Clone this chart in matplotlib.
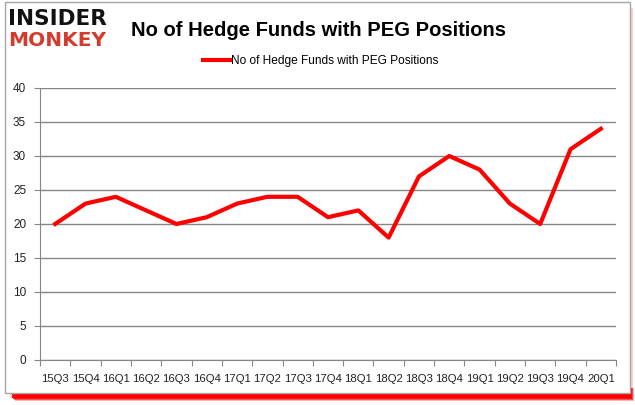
import matplotlib
matplotlib.use('Agg')
import matplotlib.pyplot as plt
from matplotlib.patches import Rectangle

plt.rcParams['font.family'] = ['Liberation Sans', 'DejaVu Sans']

# 数据
quarters = ['15Q3', '15Q4', '16Q1', '16Q2', '16Q3', '16Q4', '17Q1', '17Q2', '17Q3', '17Q4',
            '18Q1', '18Q2', '18Q3', '18Q4', '19Q1', '19Q2', '19Q3', '19Q4', '20Q1']
hedge_funds = [20, 23, 24, 22, 20, 21, 23, 24, 24, 21, 22, 18, 27, 30, 28, 23, 20, 31, 34]
y_ticks = [0, 5, 10, 15, 20, 25, 30, 35, 40]
series_name = 'No of Hedge Funds with PEG Positions'

W, H = 635, 405
fig = plt.figure(figsize=(W / 100, H / 100), dpi=100)
fig.patch.set_facecolor('white')


def px_rect(x0, y0, x1, y1, **kw):
    # 像素坐标 -> figure 坐标
    return Rectangle((x0 / W, 1 - y1 / H), (x1 - x0) / W, (y1 - y0) / H,
                     transform=fig.transFigure, **kw)


# 阴影 (底部红色渐变, 右侧淡粉)
fig.patches.append(px_rect(10, 8, 633, 398, facecolor='#ffd0d0', edgecolor='none', zorder=0))
for i, a in enumerate([0.3, 0.55, 0.8, 0.95]):
    d = 3 - i
    fig.patches.append(px_rect(12 + d, 388, 631 + d, 398 + d,
                               facecolor='#ff0000', edgecolor='none', alpha=a, zorder=0))
# 外框
fig.patches.append(px_rect(5, 2, 630, 393, facecolor='white', edgecolor='#a6a6a6',
                           linewidth=1, zorder=1))

ax = fig.add_axes([40 / W, 1 - 360 / H, 576 / W, 272 / H])
ax.set_zorder(2)
ax.patch.set_alpha(0)

x = list(range(len(quarters)))
ax.plot(x, hedge_funds, color='#ff0000', linewidth=3, label=series_name)

ax.set_xlim(-0.5, len(quarters) - 0.5)
ax.set_ylim(0, 40)
ax.set_yticks(y_ticks)
ax.yaxis.grid(True, color='#868686', linewidth=1)
ax.set_axisbelow(True)

ax.set_xticks([i - 0.5 for i in range(len(quarters) + 1)])
ax.set_xticklabels([])
ax.set_xticks(x, minor=True)
ax.set_xticklabels(quarters, minor=True, fontsize=8.2, color='#222222')
ax.tick_params(axis='x', which='major', length=4, color='#868686', direction='out')
ax.tick_params(axis='x', which='minor', length=0, pad=10)
ax.tick_params(axis='y', length=4, color='#868686', labelsize=8.5, labelcolor='#222222', pad=6)

for s in ['top', 'right']:
    ax.spines[s].set_visible(False)
for s in ['left', 'bottom']:
    ax.spines[s].set_color('#868686')

# 标题
fig.text(0.502, 1 - 30 / H, 'No of Hedge Funds with PEG Positions', ha='center', va='center',
         fontsize=14.5, fontweight='bold', color='black', zorder=3)

# 图例
fig.legend(loc='center', bbox_to_anchor=(321 / W, 1 - 61 / H), frameon=False, fontsize=8.6,
           handlelength=2.3, handletextpad=0.05)

# Logo
fig.text(8 / W, 1 - 19 / H, 'INSIDER', fontsize=15.5, fontweight='black', color='#111111',
         ha='left', va='center', zorder=3, family='DejaVu Sans')
fig.text(8 / W, 1 - 41 / H, 'MONKEY', fontsize=14.5, fontweight='black', color='#d33b2c',
         ha='left', va='center', zorder=3, family='DejaVu Sans')

plt.savefig('out.png', dpi=100)
